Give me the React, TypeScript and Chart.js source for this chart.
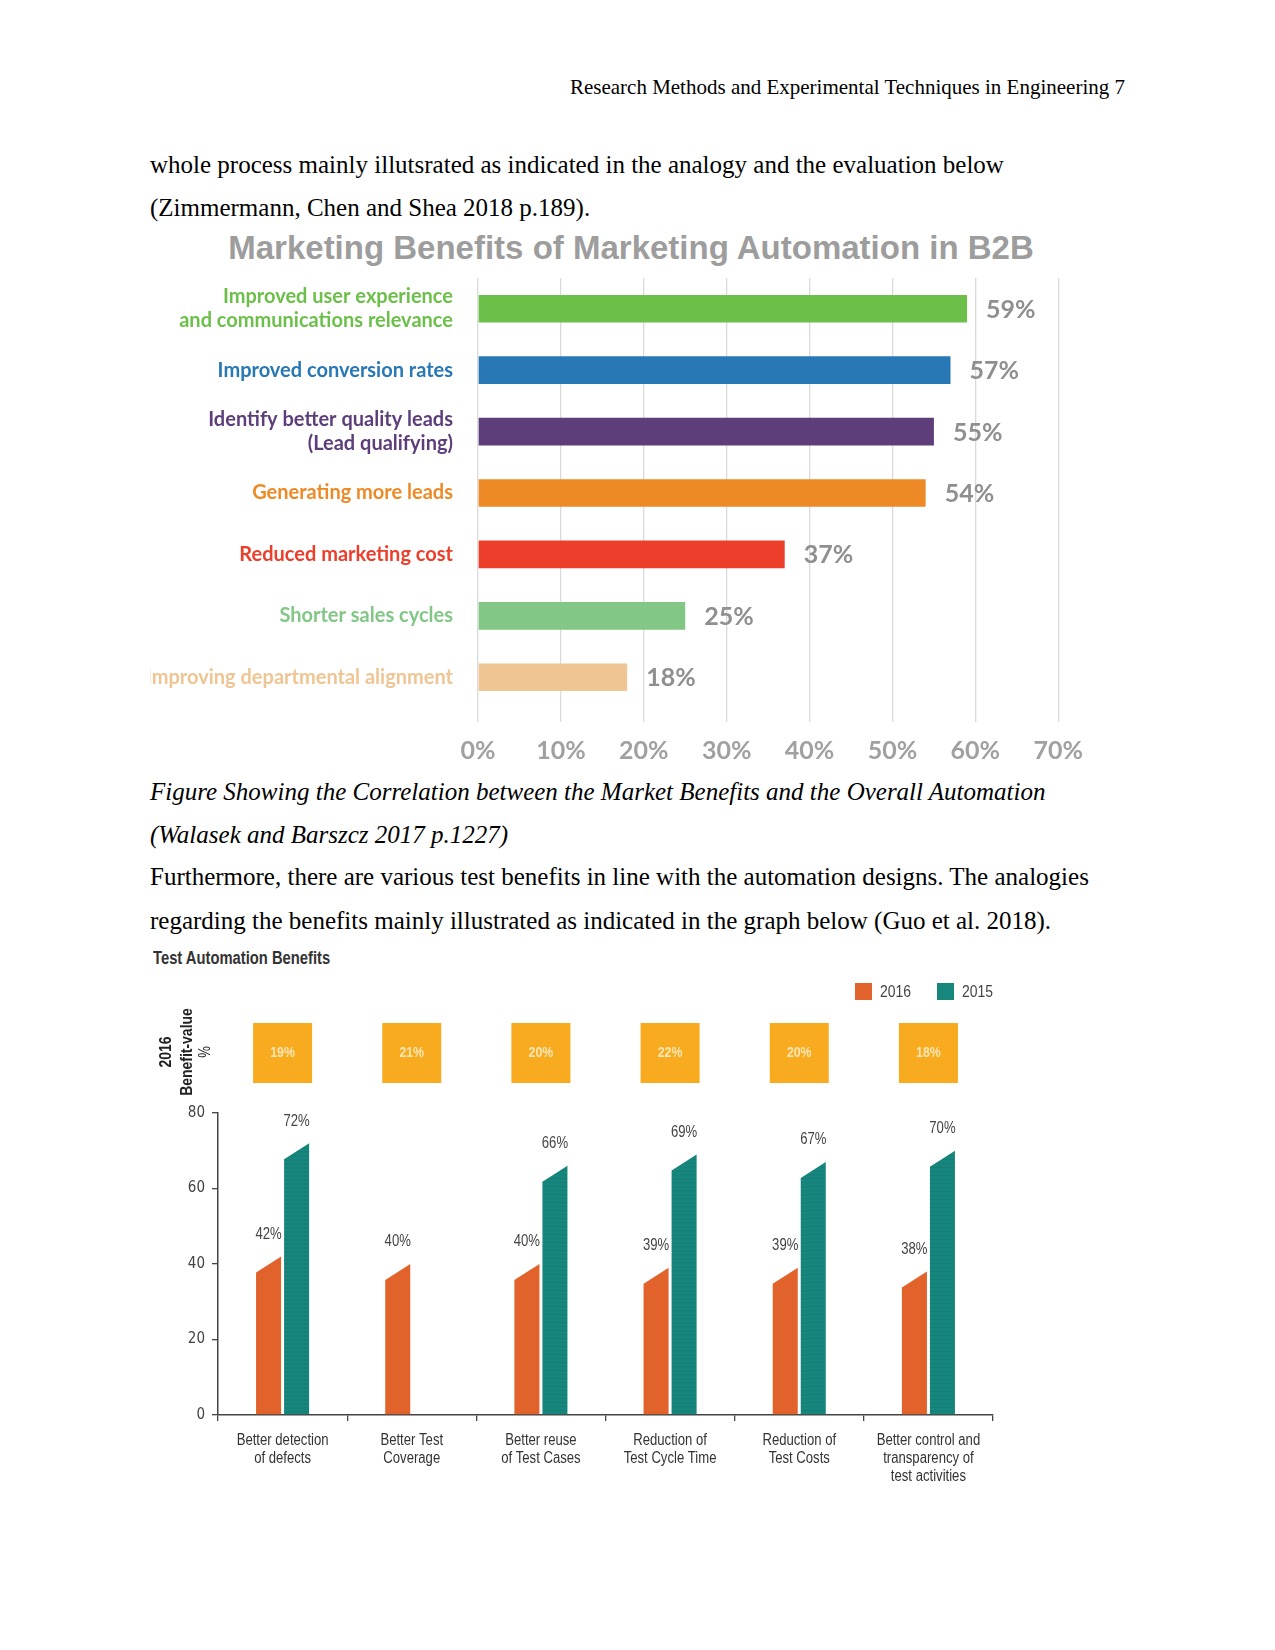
import React, { useEffect, useRef } from "react";
import { Chart, registerables } from "chart.js";
Chart.register(...registerables);

// ---------- Chart 1 data: Marketing Benefits of Marketing Automation in B2B ----------
const mbCategories: (string | string[])[] = [
  ["Improved user experience", "and communications relevance"],
  "Improved conversion rates",
  ["Identify better quality leads", "(Lead qualifying)"],
  "Generating more leads",
  "Reduced marketing cost",
  "Shorter sales cycles",
  "Improving departmental alignment",
];
const mbValues = [59, 57, 55, 54, 37, 25, 18];
const mbColors = ["#6cc04a", "#2878b5", "#5d3e7b", "#ee8a26", "#ec3e2b", "#82c785", "#eec593"];
const mbTickMin = 0;
const mbTickMax = 70;
const mbTickStep = 10;

// ---------- Chart 2 data: Test Automation Benefits ----------
const taCategories: string[][] = [
  ["Better detection", "of defects"],
  ["Better Test", "Coverage"],
  ["Better reuse", "of Test Cases"],
  ["Reduction of", "Test Cycle Time"],
  ["Reduction of", "Test Costs"],
  ["Better control and", "transparency of", "test activities"],
];
const taSeriesNames = ["2016", "2015"];
const ta2016 = [42, 40, 40, 39, 39, 38];
const ta2015 = [72, null, 66, 69, 67, 70];
const taBenefit2016 = [19, 21, 20, 22, 20, 18];
const taColors = ["#e2622c", "#17877e"];
const taBoxColor = "#f8ab1e";
const taTickMax = 80;
const taTickStep = 20;

const SANS = '"Liberation Sans", Arial, sans-serif';
const NARROW = '"DejaVu Sans Condensed", "Liberation Sans Narrow", Arial, sans-serif';
const SERIF = '"Liberation Serif", "Times New Roman", serif';
const SQUEEZE = 0.82;

function narrowText(
  ctx: CanvasRenderingContext2D,
  text: string,
  x: number,
  y: number,
  size: number,
  bold: boolean,
  align: CanvasTextAlign,
  color: string
) {
  ctx.save();
  ctx.translate(x, y);
  ctx.scale(SQUEEZE, 1);
  ctx.font = `${bold ? "bold " : ""}${size}px ${SANS}`;
  ctx.textAlign = align;
  ctx.textBaseline = "middle";
  ctx.fillStyle = color;
  ctx.fillText(text, 0, 0);
  ctx.restore();
}

function MarketingChart() {
  const ref = useRef<HTMLCanvasElement>(null);
  useEffect(() => {
    const valueLabels = {
      id: "valueLabels",
      afterDatasetsDraw(chart: any) {
        const ctx = chart.ctx;
        const meta = chart.getDatasetMeta(0);
        ctx.save();
        ctx.font = "bold 25px Lato";
        ctx.fillStyle = "#8f8f8f";
        ctx.textAlign = "left";
        ctx.textBaseline = "middle";
        meta.data.forEach((bar: any, i: number) => {
          ctx.fillText(mbValues[i] + "%", bar.x + 19, bar.y + 1);
        });
        ctx.restore();
      },
    };
    const chart = new Chart(ref.current as HTMLCanvasElement, {
      type: "bar",
      data: {
        labels: mbCategories,
        datasets: [
          {
            data: mbValues,
            backgroundColor: mbColors,
            categoryPercentage: 1,
            barPercentage: 0.45,
          },
        ],
      },
      options: {
        indexAxis: "y",
        animation: false,
        responsive: false,
        maintainAspectRatio: false,
        layout: { padding: { top: 56, right: 27, left: 0, bottom: 0 } },
        plugins: { legend: { display: false }, tooltip: { enabled: false } },
        scales: {
          x: {
            min: mbTickMin,
            max: mbTickMax,
            ticks: {
              stepSize: mbTickStep,
              callback: (v: any) => v + "%",
              font: { family: "Lato", weight: "bold", size: 25 },
              color: "#a0a0a0",
              padding: 14,
            },
            grid: { color: "#dadada", lineWidth: 1.3, drawTicks: true, tickLength: 14, tickColor: "#dadada" },
            border: { display: false },
            afterFit: (s: any) => {
              s.height = 54;
            },
          },
          y: {
            grid: { display: false, drawTicks: false },
            border: { display: false },
            ticks: {
              color: (c: any) => mbColors[c.index],
              font: { family: "Lato", weight: "bold", size: 20, lineHeight: 1.2 },
              padding: 25,
              autoSkip: false,
            },
            afterFit: (s: any) => {
              s.width = 328;
            },
          },
        },
      } as any,
      plugins: [valueLabels],
    });
    return () => chart.destroy();
  }, []);
  return (
    <canvas
      ref={ref}
      width={947}
      height={540}
      style={{ position: "absolute", left: 150, top: 222, width: 947, height: 540 }}
    />
  );
}

function TestAutomationChart() {
  const ref = useRef<HTMLCanvasElement>(null);
  useEffect(() => {
    const slantBars = {
      id: "slantBars",
      beforeDatasetDraw(chart: any, args: any) {
        const ctx = chart.ctx;
        const ds = chart.data.datasets[args.index];
        args.meta.data.forEach((bar: any, i: number) => {
          const v = ds.data[i];
          if (v == null) return;
          const { x, y, base, width } = bar.getProps(["x", "y", "base", "width"], true);
          const l = x - width / 2;
          const r = x + width / 2;
          const dy = width * 0.64;
          ctx.save();
          ctx.beginPath();
          ctx.moveTo(l, base);
          ctx.lineTo(l, y + dy);
          ctx.lineTo(r, y);
          ctx.lineTo(r, base);
          ctx.closePath();
          ctx.fillStyle = ds.backgroundColor;
          ctx.fill();
          if (args.index === 1) {
            ctx.clip();
            ctx.fillStyle = "rgba(0,0,0,0.06)";
            for (let yy = y; yy < base; yy += 4) ctx.fillRect(l, yy, width, 1.2);
          }
          ctx.restore();
        });
        return false;
      },
      afterDatasetsDraw(chart: any) {
        const ctx = chart.ctx;
        chart.data.datasets.forEach((ds: any, di: number) => {
          const meta = chart.getDatasetMeta(di);
          meta.data.forEach((bar: any, i: number) => {
            const v = ds.data[i];
            if (v == null) return;
            narrowText(ctx, v + "%", bar.x, bar.y - 22, 16, false, "center", "#444");
          });
        });
      },
      afterDraw(chart: any) {
        const ctx = chart.ctx;
        const xs = chart.scales.x;
        const area = chart.chartArea;
        // category labels under the axis
        taCategories.forEach((lines, i) => {
          const cx = xs.getPixelForValue(i);
          lines.forEach((t, li) => {
            narrowText(ctx, t, cx, area.bottom + 26 + li * 18, 16, false, "center", "#333");
          });
        });
        // 2016 benefit-value boxes
        taBenefit2016.forEach((v, i) => {
          const cx = xs.getPixelForValue(i);
          const top = area.top - 90;
          ctx.fillStyle = taBoxColor;
          ctx.fillRect(cx - 29.5, top, 59, 60);
          narrowText(ctx, v + "%", cx, top + 30, 15, true, "center", "#fde6b6");
        });
        // legend
        const legendX = [area.right - 138, area.right - 56];
        const legendY = area.top - 130;
        chart.data.datasets.forEach((ds: any, di: number) => {
          ctx.fillStyle = ds.backgroundColor;
          ctx.fillRect(legendX[di], legendY, 17, 17);
          narrowText(ctx, ds.label, legendX[di] + 25, legendY + 9, 17, false, "left", "#444");
        });
        // rotated axis title
        const cy = area.top - 61;
        const lines = [
          { t: "2016", x: 26, s: 17, b: true },
          { t: "Benefit-value", x: 47, s: 17, b: true },
          { t: "%", x: 66, s: 16, b: false },
        ];
        lines.forEach((ln) => {
          ctx.save();
          ctx.translate(ln.x, cy);
          ctx.rotate(-Math.PI / 2);
          narrowText(ctx, ln.t, 0, 0, ln.s, ln.b, "center", "#222");
          ctx.restore();
        });
      },
    };
    const chart = new Chart(ref.current as HTMLCanvasElement, {
      type: "bar",
      data: {
        labels: taCategories,
        datasets: [
          {
            label: taSeriesNames[0],
            data: ta2016,
            backgroundColor: taColors[0],
            categoryPercentage: 0.434,
            barPercentage: 0.893,
          },
          {
            label: taSeriesNames[1],
            data: ta2015,
            backgroundColor: taColors[1],
            categoryPercentage: 0.434,
            barPercentage: 0.893,
          },
        ],
      },
      options: {
        animation: false,
        responsive: false,
        maintainAspectRatio: false,
        layout: { padding: { top: 183, right: 27, left: 0, bottom: 0 } },
        plugins: { legend: { display: false }, tooltip: { enabled: false } },
        scales: {
          x: {
            grid: { drawOnChartArea: false, drawTicks: true, tickLength: 6, color: "#444", lineWidth: 1.3, offset: true },
            border: { color: "#444", width: 1.5 },
            ticks: { display: false },
            afterFit: (s: any) => {
              s.height = 85;
            },
          },
          y: {
            min: 0,
            max: taTickMax,
            ticks: { stepSize: taTickStep, font: { family: NARROW, size: 15 }, color: "#444", padding: 7 },
            grid: { drawOnChartArea: false, drawTicks: true, tickLength: 6, color: "#444", lineWidth: 1.3 },
            border: { color: "#444", width: 1.5 },
            afterFit: (s: any) => {
              s.width = 78;
            },
          },
        },
      } as any,
      plugins: [slantBars],
    });
    return () => chart.destroy();
  }, []);
  return (
    <canvas
      ref={ref}
      width={880}
      height={570}
      style={{ position: "absolute", left: 140, top: 930, width: 880, height: 570 }}
    />
  );
}

function Line(props: {
  text: string;
  baseline: number;
  size: number;
  italic?: boolean;
  right?: boolean;
}) {
  const { text, baseline, size, italic, right } = props;
  const top = baseline - 0.837 * size;
  return (
    <div
      style={{
        position: "absolute",
        left: 150,
        width: 975,
        top,
        fontFamily: SERIF,
        fontSize: size,
        lineHeight: 1,
        fontStyle: italic ? "italic" : "normal",
        textAlign: right ? "right" : "left",
        whiteSpace: "nowrap",
        color: "#000",
      }}
    >
      {text}
    </div>
  );
}

export default function App() {
  return (
    <div
      style={{
        position: "absolute",
        left: 0,
        top: 0,
        width: 1275,
        height: 1650,
        background: "#fff",
        overflow: "hidden",
      }}
    >
      <Line text="Research Methods and Experimental Techniques in Engineering 7" baseline={95} size={21} right />
      <Line
        text="whole process mainly illutsrated as indicated in the analogy and the evaluation below"
        baseline={173}
        size={25}
      />
      <Line text="(Zimmermann, Chen and Shea 2018 p.189)." baseline={216} size={25} />

      <div
        style={{
          position: "absolute",
          left: 131,
          width: 1000,
          top: 230,
          textAlign: "center",
          fontFamily: SANS,
          fontWeight: "bold",
          fontSize: 33,
          lineHeight: "36px",
          color: "#9d9d9d",
          whiteSpace: "nowrap",
        }}
      >
        Marketing Benefits of Marketing Automation in B2B
      </div>
      <MarketingChart />

      <Line
        text="Figure Showing the Correlation between the Market Benefits and the Overall Automation"
        baseline={800}
        size={25}
        italic
      />
      <Line text="(Walasek and Barszcz 2017 p.1227)" baseline={843} size={25} italic />
      <Line
        text="Furthermore, there are various test benefits in line with the automation designs. The analogies"
        baseline={885}
        size={25}
      />
      <Line
        text="regarding the benefits mainly illustrated as indicated in the graph below (Guo et al. 2018)."
        baseline={929}
        size={25}
      />

      <div
        style={{
          position: "absolute",
          left: 153,
          top: 948,
          fontFamily: SANS,
          fontWeight: "bold",
          fontSize: 18,
          lineHeight: "20px",
          color: "#333",
          whiteSpace: "nowrap",
          transform: `scaleX(${SQUEEZE})`,
          transformOrigin: "left top",
        }}
      >
        Test Automation Benefits
      </div>
      <TestAutomationChart />
    </div>
  );
}
